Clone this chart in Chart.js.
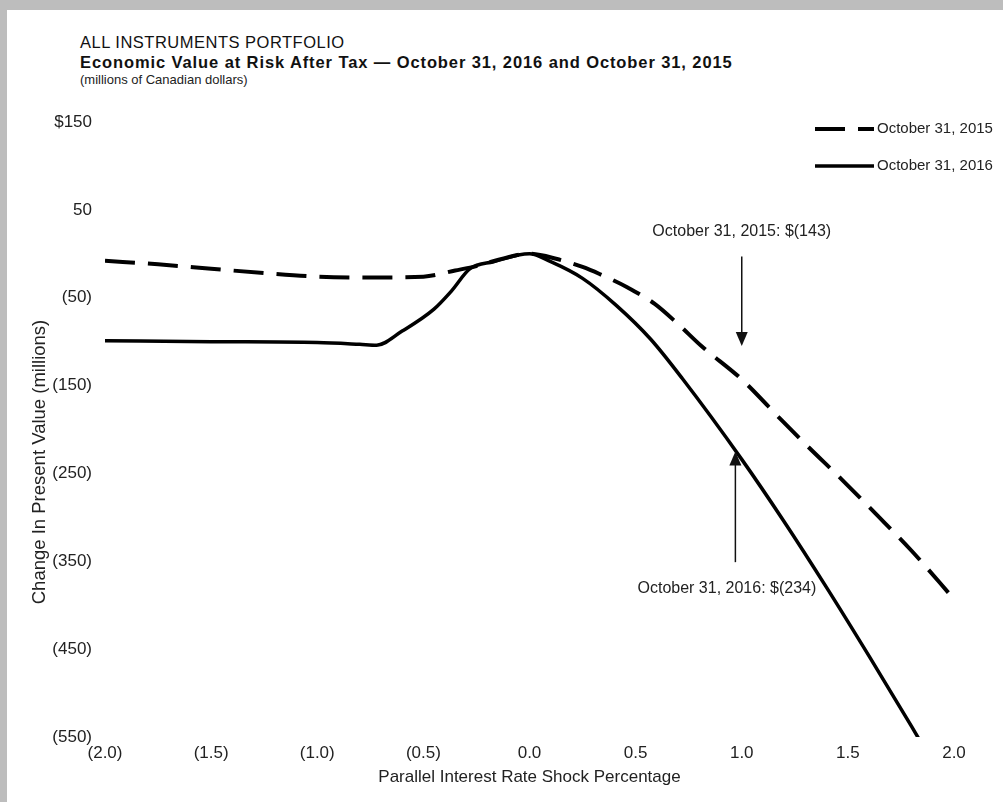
<!DOCTYPE html>
<html>
<head>
<meta charset="utf-8">
<script src="https://cdn.jsdelivr.net/npm/chart.js@4.4.0/dist/chart.umd.min.js"></script>
<style>
  body { margin: 0; background: #bdbdbd; width: 1003px; height: 802px; overflow: hidden; }
  #panel { position: absolute; left: 7px; top: 10px; width: 996px; height: 792px; background: #fff; }
  #wrap { position: absolute; left: 0; top: 0; width: 1003px; height: 802px; }
  .t { position: absolute; left: 80px; color: #111; font-family: "Liberation Sans", Arial, sans-serif; white-space: nowrap; line-height: 1.15; }
  #t1 { top: 33px; font-size: 16.5px; letter-spacing: 0.5px; }
  #t2 { top: 53px; font-size: 16.5px; font-weight: bold; letter-spacing: 0.9px; }
  #t3 { top: 73px; font-size: 13px; color: #222; }
</style>
</head>
<body>
<div id="panel"></div>
<div class="t" id="t1">ALL INSTRUMENTS PORTFOLIO</div>
<div class="t" id="t2">Economic Value at Risk After Tax — October 31, 2016 and October 31, 2015</div>
<div class="t" id="t3">(millions of Canadian dollars)</div>
<div id="wrap"><canvas id="evChart"></canvas></div>
<script>
// 데이터: 금리 충격(%) 별 현재가치 변화 (백만 CAD)
const shocks2015 = [-2.0, -1.75, -1.5, -1.25, -1.0, -0.75, -0.5, -0.35, -0.25, -0.15, 0.0, 0.13, 0.25, 0.33, 0.46, 0.59, 0.7, 0.81, 1.0, 1.19, 1.31, 1.48, 1.64, 1.8, 2.0];
const values2015 = [-8, -12, -17, -22, -26, -27, -26, -19, -14, -7, 0, -6, -15, -23, -38, -57, -80, -105, -143, -190, -219, -259, -298, -338, -393];

const shocks2016 = [-2.0, -1.5, -1.0, -0.8, -0.72, -0.6, -0.45, -0.37, -0.28, -0.17, 0.0, 0.1, 0.25, 0.41, 0.57, 0.72, 1.0, 1.2, 1.4, 1.6, 1.8, 2.0];
const values2016 = [-99, -100, -101, -103, -104, -88, -63, -43, -17, -9, 0, -9, -28, -59, -97, -142, -234, -305, -380, -458, -538, -620];

const seriesLabels = ['October 31, 2015', 'October 31, 2016'];
const xTickValues = [-2.0, -1.5, -1.0, -0.5, 0.0, 0.5, 1.0, 1.5, 2.0];
const yTickValues = [-550, -450, -350, -250, -150, -50, 50, 150];
const yTitle = 'Change In Present Value (millions)';

// 화살표 주석 (데이터 단위)
const notes = [
    { text: 'October 31, 2015: $(143)', x: 1.0, textX: 1.0, textY: 25, from: -3, to: -105 },
    { text: 'October 31, 2016: $(234)', x: 0.97, textX: 0.93, textY: -381, from: -351, to: -225 }
];

const FONT = '"Liberation Sans", Arial, sans-serif';

function fmtShock(v) {
    const s = Math.abs(v).toFixed(1);
    return v < 0 ? '(' + s + ')' : s;
}
function fmtValue(v) {
    if (v === 150) return '$150';
    return v < 0 ? '(' + Math.abs(v) + ')' : String(v);
}

const annotationPlugin = {
    id: 'notes',
    afterDatasetsDraw(chart) {
        const ctx = chart.ctx;
        const xs = chart.scales.x, ys = chart.scales.y;
        ctx.save();
        ctx.strokeStyle = '#111';
        ctx.font = '16px ' + FONT;
        ctx.textAlign = 'center';
        ctx.textBaseline = 'middle';
        notes.forEach(n => {
            const px = xs.getPixelForValue(n.x);
            const y1 = ys.getPixelForValue(n.from);
            const y2 = ys.getPixelForValue(n.to);
            const dir = y2 > y1 ? 1 : -1;
            ctx.lineWidth = 1.5;
            ctx.beginPath();
            ctx.moveTo(px, y1);
            ctx.lineTo(px, y2 - dir * 12);
            ctx.stroke();
            ctx.beginPath();
            ctx.moveTo(px, y2);
            ctx.lineTo(px - 6, y2 - dir * 14);
            ctx.lineTo(px + 6, y2 - dir * 14);
            ctx.closePath();
            ctx.fillStyle = '#111';
            ctx.fill();
            ctx.fillStyle = '#222';
            ctx.fillText(n.text, xs.getPixelForValue(n.textX), ys.getPixelForValue(n.textY));
        });

        // 범례
        ctx.font = '15px ' + FONT;
        chart.data.datasets.forEach((ds, i) => {
            const y = 129 + i * 37;
            ctx.beginPath();
            ctx.setLineDash(ds.borderDash || []);
            ctx.lineWidth = ds.borderWidth;
            ctx.strokeStyle = ds.borderColor;
            ctx.moveTo(815, y);
            ctx.lineTo(874, y);
            ctx.stroke();
            ctx.setLineDash([]);
            ctx.textAlign = 'left';
            ctx.fillStyle = '#222';
            ctx.fillText(ds.label, 877, y);
        });

        // 세로축 제목
        ctx.translate(40, 462);
        ctx.rotate(-Math.PI / 2);
        ctx.font = '18.5px ' + FONT;
        ctx.textAlign = 'center';
        ctx.fillStyle = '#222';
        ctx.fillText(yTitle, 0, 0);
        ctx.restore();
    }
};

const ctx = document.getElementById('evChart').getContext('2d');
const chart = new Chart(ctx, {
    type: 'line',
    data: {
        datasets: [{
            label: seriesLabels[0],
            data: shocks2015.map((s, i) => ({ x: s, y: values2015[i] })),
            borderColor: '#000',
            borderWidth: 4,
            borderDash: [30, 13],
            pointRadius: 0,
            cubicInterpolationMode: 'monotone',
            fill: false
        }, {
            label: seriesLabels[1],
            data: shocks2016.map((s, i) => ({ x: s, y: values2016[i] })),
            borderColor: '#000',
            borderWidth: 3.5,
            pointRadius: 0,
            cubicInterpolationMode: 'monotone',
            fill: false
        }]
    },
    options: {
        responsive: true,
        maintainAspectRatio: false,
        animation: false,
        layout: { padding: { top: 122, right: 49, bottom: 0, left: 0 } },
        plugins: { legend: { display: false }, tooltip: { enabled: false } },
        scales: {
            x: {
                type: 'linear',
                min: -2,
                max: 2,
                afterBuildTicks: scale => { scale.ticks = xTickValues.map(v => ({ value: v })); },
                afterFit: scale => { scale.height = 65; },
                grid: { display: false, drawTicks: false },
                border: { display: false },
                ticks: {
                    padding: 6,
                    color: '#222',
                    font: { family: FONT, size: 17 },
                    maxRotation: 0,
                    callback: v => fmtShock(v)
                },
                title: {
                    display: true,
                    text: 'Parallel Interest Rate Shock Percentage',
                    color: '#222',
                    font: { family: FONT, size: 17 },
                    padding: { top: 0, bottom: 14 }
                }
            },
            y: {
                min: -550,
                max: 150,
                afterBuildTicks: scale => { scale.ticks = yTickValues.map(v => ({ value: v })); },
                afterFit: scale => { scale.width = 105; },
                grid: { display: false, drawTicks: false },
                border: { display: false },
                ticks: {
                    padding: 13,
                    color: '#222',
                    font: { family: FONT, size: 17 },
                    callback: v => fmtValue(v)
                }
            }
        }
    },
    plugins: [annotationPlugin]
});
</script>
</body>
</html>
